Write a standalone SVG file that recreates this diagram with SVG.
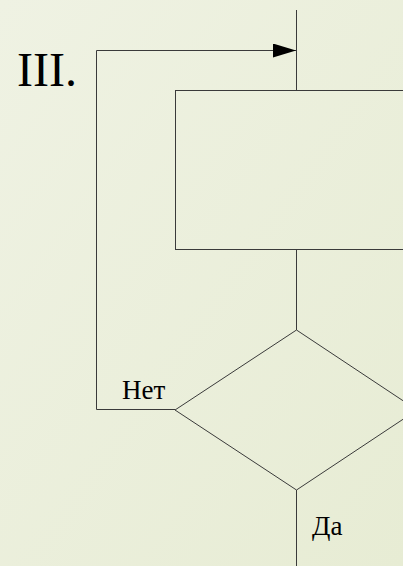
<svg xmlns="http://www.w3.org/2000/svg" width="403" height="566" viewBox="0 0 403 566">
<defs>
<linearGradient id="bg" x1="0" y1="0" x2="1" y2="1">
<stop offset="0" stop-color="#EFF2E3"/>
<stop offset="1" stop-color="#E7ECD4"/>
</linearGradient>
<marker id="arr" markerWidth="24" markerHeight="14" refX="23" refY="7" orient="auto" markerUnits="userSpaceOnUse">
<path d="M0,0 L23,7 L0,14 Z" fill="#000"/>
</marker>
<style>
.ln{fill:none;stroke:#3a3a3a;stroke-width:1}
.sh{fill:none;stroke:#3a3a3a;stroke-width:1}
</style>
</defs>
<rect width="403" height="566" fill="url(#bg)"/>
<text x="17" y="86" font-size="48" font-family="Liberation Serif" fill="#000">III.</text>
<g id="connectors">
<line class="ln" x1="296.5" y1="10" x2="296.5" y2="90"/>
<line class="ln" x1="296.5" y1="249" x2="296.5" y2="330"/>
<line class="ln" x1="296.5" y1="490" x2="296.5" y2="566"/>
<polyline class="ln" points="175,409.5 96.5,409.5 96.5,50.5 296,50.5" marker-end="url(#arr)"/>
</g>
<g id="process">
<rect class="sh" x="175.5" y="90.5" width="242" height="159"/>
</g>
<g id="decision">
<polygon class="sh" points="296.5,330 417,410 296.5,490 175,410"/>
</g>
<text x="122" y="399" font-size="27" font-family="Liberation Serif" fill="#000">Нет</text>
<text x="312" y="535" font-size="27" font-family="Liberation Serif" fill="#000">Да</text>
</svg>
